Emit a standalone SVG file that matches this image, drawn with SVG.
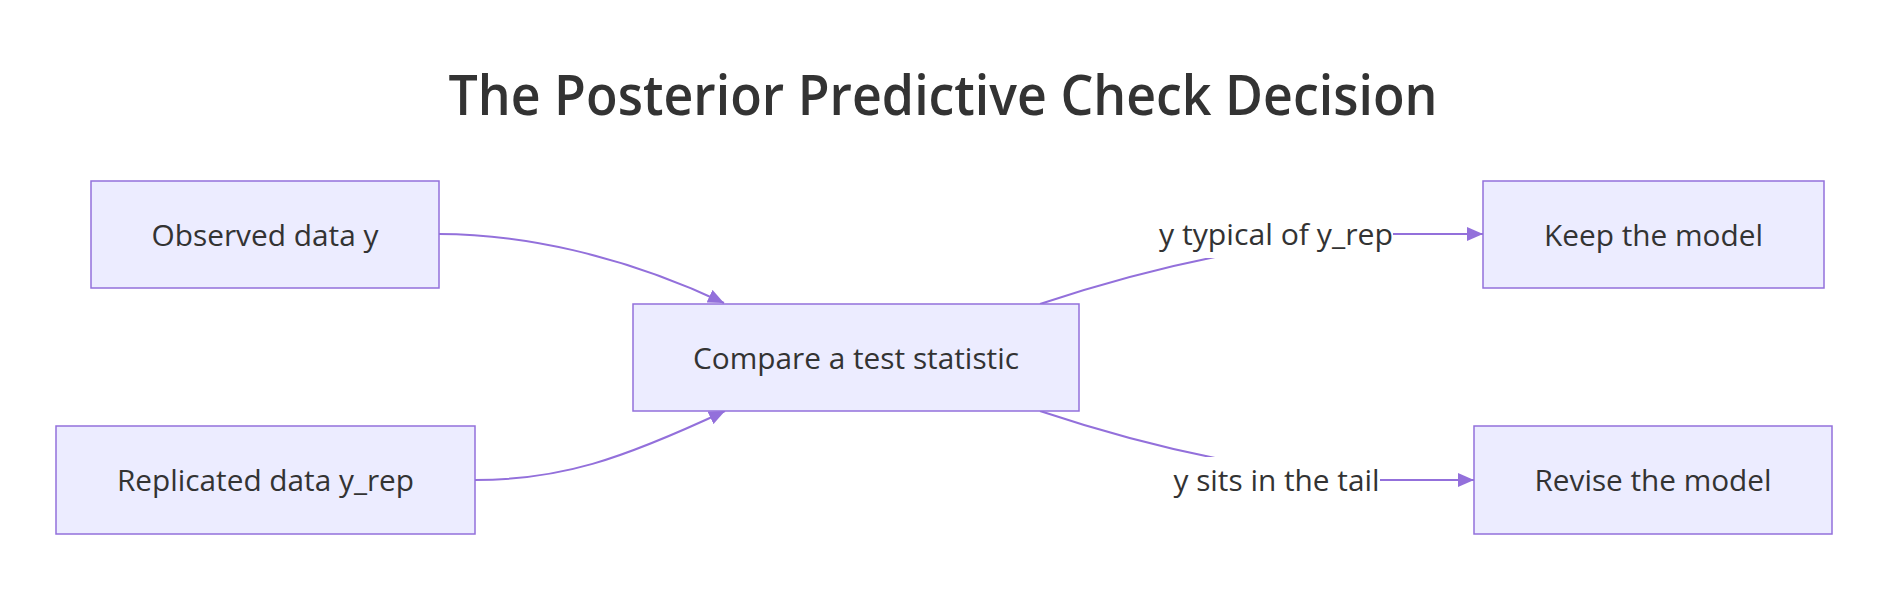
<svg xmlns="http://www.w3.org/2000/svg" width="1904" height="594" viewBox="0 0 1904 594">
<style>
  .node rect { fill: #ECECFF; stroke: #9370DB; stroke-width: 1.5; }
  text { font-family: "Segoe UI", "Open Sans", "Noto Sans", sans-serif; fill: #333333; text-anchor: middle; }
  .ntext { font-size: 30px; }
  .title { font-size: 56px; font-weight: 600; }
  .edge { fill: none; stroke: #9370DB; stroke-width: 2; }
  .lbg { fill: #ffffff; }
</style>
<defs>
  <marker id="arrow" markerUnits="userSpaceOnUse" markerWidth="16" markerHeight="14" viewBox="0 0 16 14" refX="16" refY="7" orient="auto">
    <path d="M0,0 L16,7 L0,14 z" fill="#9370DB"/>
  </marker>
</defs>
<rect width="1904" height="594" fill="#ffffff"/>
<text class="title" x="943" y="115" textLength="989" lengthAdjust="spacingAndGlyphs">The Posterior Predictive Check Decision</text>
<g id="connectors">
  <path class="edge" d="M439,234 C520,234 620,254 724,303" marker-end="url(#arrow)"/>
  <path class="edge" d="M475,480 C560,480 620,460 725,411" marker-end="url(#arrow)"/>
  <path class="edge" d="M1040,304 C1100,284 1160,268 1215,257 L1250,240 L1300,234 L1483,234" marker-end="url(#arrow)"/>
  <path class="edge" d="M1040,411 C1100,431 1160,447 1215,458 L1250,474 L1300,480 L1474,480" marker-end="url(#arrow)"/>
</g>
<g id="edge-labels">
  <g id="label-typical">
    <rect class="lbg" x="1159" y="212" width="234" height="46"/>
    <text class="ntext" x="1276" y="245" textLength="234" lengthAdjust="spacingAndGlyphs">y typical of y_rep</text>
  </g>
  <g id="label-tail">
    <rect class="lbg" x="1173" y="457" width="207" height="46"/>
    <text class="ntext" x="1276.5" y="491" textLength="206" lengthAdjust="spacingAndGlyphs">y sits in the tail</text>
  </g>
</g>
<g id="node-observed" class="node">
  <rect x="91" y="181" width="348" height="107"/>
  <text class="ntext" x="265" y="246" textLength="227" lengthAdjust="spacingAndGlyphs">Observed data y</text>
</g>
<g id="node-replicated" class="node">
  <rect x="56" y="426" width="419" height="108"/>
  <text class="ntext" x="265.5" y="491" textLength="297" lengthAdjust="spacingAndGlyphs">Replicated data y_rep</text>
</g>
<g id="node-compare" class="node">
  <rect x="633" y="304" width="446" height="107"/>
  <text class="ntext" x="856" y="369" textLength="326" lengthAdjust="spacingAndGlyphs">Compare a test statistic</text>
</g>
<g id="node-keep" class="node">
  <rect x="1483" y="181" width="341" height="107"/>
  <text class="ntext" x="1653.5" y="246" textLength="219" lengthAdjust="spacingAndGlyphs">Keep the model</text>
</g>
<g id="node-revise" class="node">
  <rect x="1474" y="426" width="358" height="108"/>
  <text class="ntext" x="1653" y="491" textLength="237" lengthAdjust="spacingAndGlyphs">Revise the model</text>
</g>
</svg>
